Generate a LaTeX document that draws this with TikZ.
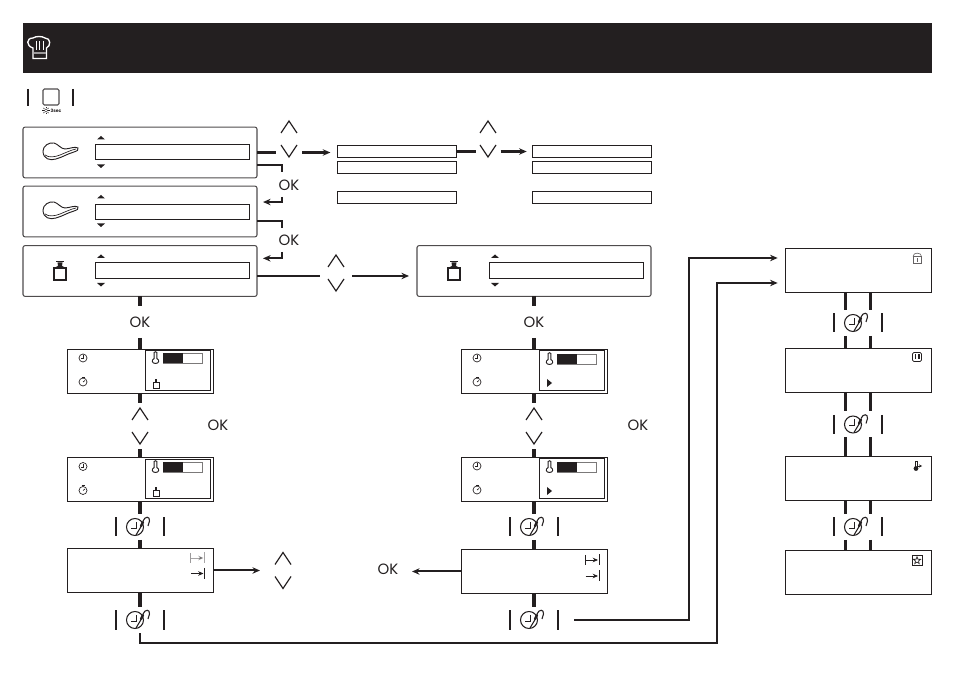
\documentclass[tikz,border=0pt]{standalone}
\usepackage{fontspec}
\setmainfont{Poppins}
\usepackage{amsmath}
\usetikzlibrary{arrows.meta, positioning, calc}
\definecolor{headbg}{HTML}{231F20}
\definecolor{inkline}{HTML}{231F20}

\begin{document}
\begin{tikzpicture}[
    x=0.75pt, y=-0.75pt,
    flow/.style={draw=inkline, line width=2.4pt},
    thinflow/.style={draw=inkline, line width=1.5pt},
    tipflow/.style={-{Stealth[length=2mm, width=1.7mm]}},
    panel/.style={rectangle, rounded corners=1.5pt, draw=inkline!80, line width=0.8pt, minimum width=175.5pt, minimum height=38pt, inner sep=0pt, outer sep=0pt},
    menubar/.style={rectangle, draw=inkline, line width=0.8pt, minimum width=116pt, minimum height=11.6pt, inner sep=0pt, outer sep=0pt},
    listbar/.style={rectangle, draw=inkline, line width=0.7pt, minimum width=89.2pt, minimum height=9.6pt, inner sep=0pt, outer sep=0pt},
    dispbox/.style={rectangle, draw=inkline, line width=0.7pt, minimum width=109.5pt, minimum height=33pt, inner sep=0pt, outer sep=0pt},
    dispinner/.style={rectangle, draw=inkline, line width=0.7pt, minimum width=49pt, minimum height=29.5pt, inner sep=0pt, outer sep=0pt},
    oklabel/.style={font=\fontsize{11.2}{11.2}\selectfont, text=inkline, inner sep=0pt, outer sep=0pt},
    keypair/.style={inner sep=0pt, outer sep=0pt, minimum height=35pt},
    knob/.style={inner sep=0pt, outer sep=0pt, minimum width=36pt, minimum height=19.5pt},
    iconline/.style={draw=inkline, line width=0.5pt},
    chevrons/.pic={
        \draw[draw=inkline, line width=0.9pt] (-8,-6) -- (0,-18) -- (8,-6);
        \draw[draw=inkline, line width=0.9pt] (-8,6) -- (0,18) -- (8,6);
    },
    knobicon/.pic={
        \draw[draw=inkline, line width=0.8pt] (-24,-9.5) -- (-24,9.5);
        \draw[draw=inkline, line width=0.8pt] (24,-9.5) -- (24,9.5);
        \draw[draw=inkline, line width=0.8pt] (-5,0) circle [radius=8.5];
        \draw[draw=inkline, line width=0.7pt] (-4,-5) -- (-4,1) -- (-9,1);
        \draw[draw=inkline, line width=0.8pt] (-4,8) -- (2,-2);
        \draw[draw=inkline, line width=1.8pt, line cap=round] (1,-1) -- (3,-5);
        \draw[draw=inkline, line width=0.8pt] (3,-6) .. controls (5,-11) and (10,-11) .. (9.5,-6) .. controls (9.5,-4) and (8,-3) .. (8,-1);
    },
    meaticon/.pic={
        \draw[draw=inkline, line width=0.7pt] (-17,-1) .. controls (-17,-6) and (-11,-10) .. (-6,-9) .. controls (-2,-8) and (1,-3) .. (5,-3) .. controls (9,-3) and (15,-6) .. (18,-4) .. controls (19,-2) and (17,-1) .. (14,0) .. controls (7,2) and (3,5) .. (-4,7) .. controls (-10,9) and (-17,7) .. (-17,-1) -- cycle;
        \draw[draw=inkline, line width=0.5pt] (-15,3) .. controls (-11,6) and (-5,5) .. (0,3) .. controls (5,1) and (11,-2) .. (16,-3);
    },
    weighticon/.pic={
        \draw[draw=inkline, line width=1pt] (-6,-3) rectangle (6,9);
        \fill[inkline] (-4,-10) rectangle (4,-8.5);
        \fill[inkline] (-2.5,-8.5) -- (2.5,-8.5) -- (2,-5) -- (6,-3) -- (-6,-3) -- (-2,-5) -- cycle;
    },
    smallweight/.pic={
        \draw[draw=inkline, line width=0.6pt] (-3,-1) rectangle (3,4.5);
        \fill[inkline] (-1,-4.5) rectangle (1,-1);
    },
    clockicon/.pic={
        \draw[iconline] (0,0) circle [radius=4];
        \draw[iconline] (0.5,-2.5) -- (0.5,0.5) -- (-2.5,0.5);
    },
    timericon/.pic={
        \draw[iconline] (0,0.5) circle [radius=4];
        \draw[draw=inkline, line width=0.7pt] (-1.5,-4.5) -- (1.5,-4.5);
        \draw[iconline] (0,-4.5) -- (0,-3.5);
        \draw[iconline] (0,0.5) -- (2,-1);
    },
    thermoicon/.pic={
        \draw[draw=inkline, line width=0.7pt] (-1.3,-5.5) -- (-1.3,0.5) .. controls (-4.5,2) and (-3.5,5.5) .. (0,5.5) .. controls (3.5,5.5) and (4.5,2) .. (1.3,0.5) -- (1.3,-5.5) .. controls (1,-6.5) and (-1,-6.5) .. (-1.3,-5.5) -- cycle;
    },
    endarrow/.pic={
        \draw[draw=inkline, line width=0.6pt, -{Stealth[length=1.4mm, width=1.2mm]}] (-6.5,0) -- (6,0);
        \draw[draw=inkline, line width=0.7pt] (7,-5.5) -- (7,5.5);
    }
]
    \useasboundingbox (0,0) rectangle (954,673);

    % Title band
    \node[rectangle, fill=headbg, minimum width=681.75pt, minimum height=37.5pt, inner sep=0pt] (header) at (477.5,48) {};
    \draw[white, line width=1pt] (33,48) .. controls (26,46) and (26,38) .. (33,38) .. controls (36,36) and (42,36) .. (45,38) .. controls (51,38) and (51,46) .. (46.5,48) -- (46.5,58.5) -- (33,58.5) -- cycle;
    \draw[white, line width=0.7pt] (36,41) -- (36,50) (39.5,41) -- (39.5,50) (43,41) -- (43,50);
    \fill[white!55!headbg] (33.5,52) rectangle (46,54);

    % Start button
    \draw[inkline, line width=0.8pt] (28,89) -- (28,106);
    \draw[inkline, line width=0.8pt] (73,89) -- (73,106);
    \node[rectangle, rounded corners=1pt, draw=inkline!80, line width=0.8pt, minimum size=12pt, inner sep=0pt] (startkey) at (51,97) {};
    \node[font=\fontsize{3.4}{3.4}\selectfont\bfseries, text=inkline, inner sep=0pt] (startsec) at (56,110.5) {3sec};
    \draw[inkline, line width=0.35pt] (46,110.5) circle [radius=1.6];
    \foreach \a in {0,45,...,315} {
        \draw[inkline, line width=0.3pt] (46,110.5) ++(\a:2.2) -- ++(\a:1.5);
    }

    % Menu panels
    \foreach \n/\x/\y/\b in {panelA/140/152.5/-0.5, panelB/140/211.5/0.5, panelC/140/271/-0.5, panelD/534/271/-0.5} {
        \node[panel] (\n) at (\x,\y) {};
        \node[menubar] (\n bar) at ({\x+32.5},{\y+\b}) {};
        \fill[inkline] ({\x-43},{\y-13}) -- ({\x-39},{\y-16.5}) -- ({\x-35},{\y-13}) -- cycle;
        \fill[inkline] ({\x-43},{\y+12}) -- ({\x-39},{\y+15.5}) -- ({\x-35},{\y+12}) -- cycle;
    }
    \pic at (60,152) {meaticon};
    \pic at (60,211) {meaticon};
    \pic at (60,271) {weighticon};
    \pic at (454,271) {weighticon};

    % Choice lists
    \foreach \n/\x in {listA/396.5, listB/591.5} {
        \node[listbar] (\n a) at (\x,151.5) {};
        \node[listbar] (\n b) at (\x,167.5) {};
        \node[listbar] (\n c) at (\x,197.5) {};
    }

    % Up and down keys
    \foreach \n/\x/\y/\w in {chevT/289/139/19.5, chevU/488/139/18.75, chevH/336/273/24, chevLa/140/426/12, chevRa/534/426/12, chevLb/283/570.5/34.5} {
        \node[keypair, minimum width=\w pt] (\n) at (\x,\y) {};
        \pic at (\x,\y) {chevrons};
    }

    % OK labels
    \foreach \n/\x/\y in {okA/289/185, okB/289/240, okF/218/425, okG/638/425} {
        \node[oklabel] (\n) at (\x,\y) {OK};
    }
    \node[oklabel, minimum height=24pt] (okC) at (140,322) {OK};
    \node[oklabel, minimum height=24pt] (okD) at (534,322) {OK};
    \node[oklabel, minimum width=36pt] (okE) at (388,569) {OK};

    % Displays
    \foreach \n/\x/\y/\t in {dispLa/140/371/358, dispLb/140/479.5/467, dispRa/534/371/359, dispRb/534/479/467} {
        \node[dispbox] (\n) at (\x,\y) {};
        \node[dispinner] (\n in) at ({\x+38.25},{\y-0.5}) {};
        \node[rectangle, draw=inkline!60, line width=0.5pt, minimum width=29.25pt, minimum height=7.5pt, inner sep=0pt] (\n level) at ({\x+42.5},\t) {};
        \fill[inkline] ({\x+23},{\t-5}) rectangle ({\x+42.5},{\t+5});
        \pic at ({\x+15.5},{\t}) {thermoicon};
        \pic at ({\x-57},{\y-13}) {clockicon};
        \pic at ({\x-57},{\y+10.5}) {timericon};
    }
    \pic at (156,383.5) {smallweight};
    \pic at (156,491.5) {smallweight};
    \fill[inkline] (547,379) -- (552,383) -- (547,387) -- cycle;
    \fill[inkline] (547,487) -- (552,491) -- (547,495) -- cycle;

    \node[dispbox] (dispLc) at (140,570.5) {};
    \node[dispbox] (dispRc) at (534,571.5) {};
    \begin{scope}[draw opacity=0.4, fill opacity=0.4]
        \pic at (197.5,558) {endarrow};
    \end{scope}
    \draw[inkline!45, line width=0.7pt] (190.5,553) -- (190.5,563);
    \pic at (197.5,573.5) {endarrow};
    \pic at (592,560) {endarrow};
    \draw[inkline, line width=0.7pt] (585,555) -- (585,565);
    \pic at (592,576) {endarrow};

    % Function displays
    \foreach \n/\y in {boxA/270, boxB/370, boxC/478.5, boxD/572} {
        \node[dispbox] (\n) at (858,\y) {};
    }
    \draw[draw=inkline!70, line width=0.45pt] (913,256.5) rectangle (921.5,263);
    \draw[draw=inkline!70, line width=0.45pt] (913,256.5) .. controls (913,252) and (921.5,252) .. (921.5,256.5);
    \draw[draw=inkline!70, line width=0.45pt] (917.2,258.5) -- (917.2,262);
    \draw[draw=inkline, line width=0.6pt, rounded corners=1pt] (912.5,352.5) rectangle (921.5,361.5);
    \fill[inkline] (914.5,354.5) rectangle (916,359.5);
    \fill[inkline] (918,354.5) rectangle (919.5,359.5);
    \draw[iconline] (915.5,461) -- (915.5,467);
    \draw[iconline] (917.5,461) -- (917.5,467);
    \draw[iconline] (915.5,461) -- (917.5,461);
    \fill[inkline] (916,468.5) circle [radius=2.4];
    \draw[inkline, line width=0.5pt, -{Stealth[length=0.8mm, width=0.8mm]}] (918,466) -- (922,466);
    \draw[iconline] (912,555.5) rectangle (922,565.5);
    \draw[inkline, line width=0.5pt, shift={(917,560.5)}] (-90:3.8) -- (-54:1.6) -- (-18:3.8) -- (18:1.6) -- (54:3.8) -- (90:1.6) -- (126:3.8) -- (162:1.6) -- (198:3.8) -- (234:1.6) -- cycle;

    % Clock keys
    \foreach \n/\x/\y in {knobLa/140/527, knobLb/140/620, knobRa/534/527, knobRb/534/620, knobA/858/323, knobB/858/424.5, knobC/858/527} {
        \node[knob] (\n) at (\x,\y) {};
        \pic at (\x,\y) {knobicon};
    }

    % Main columns
    \foreach \a/\b in {panelC/okC, okC/dispLa, dispLa/chevLa, chevLa/dispLb, dispLb/knobLa, knobLa/dispLc, dispLc/knobLb, panelD/okD, okD/dispRa, dispRa/chevRa, chevRa/dispRb, dispRb/knobRa, knobRa/dispRc, dispRc/knobRb} {
        \draw[flow] (\a.south) -- (\b.north);
    }

    % Right column
    \foreach \a/\b in {boxA/knobA, knobA/boxB, boxB/knobB, knobB/boxC, boxC/knobC, knobC/boxD} {
        \foreach \s in {-9.4,9.4} {
            \draw[flow, line width=1.8pt] ([xshift=\s pt]\a.south) -- ([xshift=\s pt]\b.north);
        }
    }

    % Top row
    \draw[flow] (panelA.east) -- (panelA.east -| chevT.west);
    \draw[flow, tipflow, shorten >=5pt] (panelA.east -| chevT.east) -- (panelA.east -| listAa.west);
    \draw[flow] (listAa.east) -- (listAa.east -| chevU.west);
    \draw[flow, tipflow, shorten >=4pt] (listAa.east -| chevU.east) -- (listBa.west);

    % OK steps between panels
    \coordinate (okAin) at (281.5,172);
    \coordinate (okAout) at (281.5,197);
    \coordinate (okBin) at (281.5,228);
    \coordinate (okBout) at (281.5,252);
    \draw[thinflow] ([yshift=-9.4pt]panelA.east) -| (okAin);
    \draw[thinflow, tipflow, shorten >=4.5pt] (okAout) |- ([yshift=7.1pt]panelB.east);
    \draw[thinflow] ([yshift=-7.2pt]panelB.east) -| (okBin);
    \draw[thinflow, tipflow, shorten >=4.5pt] (okBout) |- ([yshift=9.5pt]panelC.east);

    % Panel to panel
    \coordinate (chevHin) at ([yshift=-3.75pt]panelC.east);
    \draw[thinflow] (chevHin) -- (chevHin -| chevH.west);
    \draw[thinflow, tipflow, shorten >=6pt] (chevHin -| chevH.east) -- (chevHin -| panelD.west);

    % Side arrows
    \draw[thinflow, tipflow] (dispLc.east) -- (dispLc.east -| chevLb.west);
    \draw[thinflow, tipflow] (dispRc.west) -- (dispRc.west -| okE.east);

    % Routes to the function displays
    \coordinate (routeA) at (689,620);
    \coordinate (routeB) at (717,643);
    \draw[flow, line width=1.8pt, tipflow, shorten <=12pt, shorten >=5.5pt] (knobRb.east) -- (routeA) |- ([yshift=9pt]boxA.west);
    \draw[flow, line width=1.8pt, tipflow, shorten >=5.5pt] (knobLb.south) |- (routeB) |- ([yshift=-9.75pt]boxA.west);
\end{tikzpicture}
\end{document}
